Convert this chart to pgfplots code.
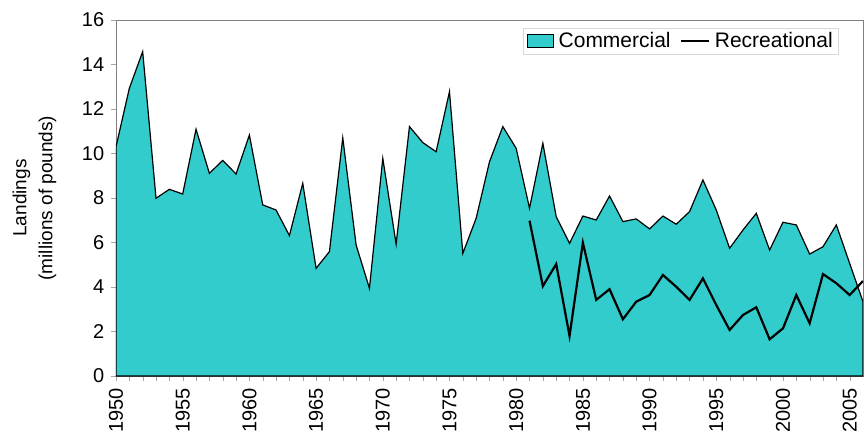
\documentclass[border=0pt]{standalone}
\usepackage{fontspec}
\setmainfont{Liberation Sans}
\usepackage{pgfplots}
\pgfplotsset{compat=1.18}
\definecolor{comm}{RGB}{51,204,204}

\begin{document}
\fontsize{20}{24}\selectfont
\begin{tikzpicture}[x=1pt,y=1pt]
\useasboundingbox (-116,-64) rectangle (751,376);
\begin{axis}[
    at={(0,0)}, anchor=south west,
    scale only axis,
    width=747pt, height=356pt,
    xmin=1950, xmax=2006,
    ymin=0, ymax=16,
    ytick={0,2,...,16},
    xtick={1950,1955,...,2005},
    minor x tick num=4,
    tick align=outside,
    tick pos=left,
    major tick length=5pt,
    minor tick length=5pt,
    tick style={gray!70},
    axis line style={gray},
    /pgf/number format/assume math mode=true,
    xticklabel style={/pgf/number format/1000 sep={}, rotate=90, anchor=east, font=\fontsize{20}{24}\selectfont},
    yticklabel style={font=\fontsize{20}{24}\selectfont},
    ylabel={Landings\\(millions of pounds)},
    every axis y label/.style={at={(axis description cs:-0.109,0.5)}, rotate=90, anchor=center, align=center, font=\fontsize{19}{26}\selectfont},
    legend columns=2,
    legend style={at={(0.9665,0.978)}, anchor=north east, draw=gray!30,
        font=\fontsize{21}{24}\selectfont, inner xsep=3pt, inner ysep=2pt,
        /tikz/every odd column/.append style={column sep=3pt},
        /tikz/every even column/.append style={column sep=7pt}},
]
\addplot[fill=comm, draw=black, line width=1.2pt,
    legend image code/.code={
        \draw[fill=comm, draw=black, line width=1pt] (0pt,-6pt) rectangle (26pt,7pt);}] coordinates {
(1950,10.30) (1951,12.93) (1952,14.58) (1953,7.99) (1954,8.39) (1955,8.18)
(1956,11.09) (1957,9.11) (1958,9.69) (1959,9.08) (1960,10.83) (1961,7.69)
(1962,7.46) (1963,6.31) (1964,8.66) (1965,4.84) (1966,5.59) (1967,10.70)
(1968,5.89) (1969,3.94) (1970,9.78) (1971,5.93) (1972,11.21) (1973,10.49)
(1974,10.08) (1975,12.78) (1976,5.51) (1977,7.09) (1978,9.63) (1979,11.21)
(1980,10.23) (1981,7.54) (1982,10.46) (1983,7.16) (1984,5.96) (1985,7.19)
(1986,7.01) (1987,8.09) (1988,6.94) (1989,7.06) (1990,6.61) (1991,7.19)
(1992,6.82) (1993,7.39) (1994,8.81) (1995,7.46) (1996,5.74) (1997,6.56)
(1998,7.31) (1999,5.66) (2000,6.91) (2001,6.79) (2002,5.48) (2003,5.81)
(2004,6.79) (2005,5.06) (2006,3.34)
} \closedcycle;
\addlegendentry{Commercial}
\addplot[black, line width=2.2pt,
    legend image code/.code={
        \draw[black, line width=2.2pt] (0pt,0pt) -- (28pt,0pt);}] coordinates {
(1981,6.98) (1982,4.04) (1983,5.03) (1984,1.80) (1985,5.99) (1986,3.42)
(1987,3.90) (1988,2.55) (1989,3.34) (1990,3.64) (1991,4.54) (1992,4.01)
(1993,3.42) (1994,4.39) (1995,3.19) (1996,2.07) (1997,2.74) (1998,3.09)
(1999,1.65) (2000,2.14) (2001,3.64) (2002,2.37) (2003,4.58) (2004,4.17)
(2005,3.64) (2006,4.27)
};
\addlegendentry{Recreational}
\end{axis}
\end{tikzpicture}
\end{document}
